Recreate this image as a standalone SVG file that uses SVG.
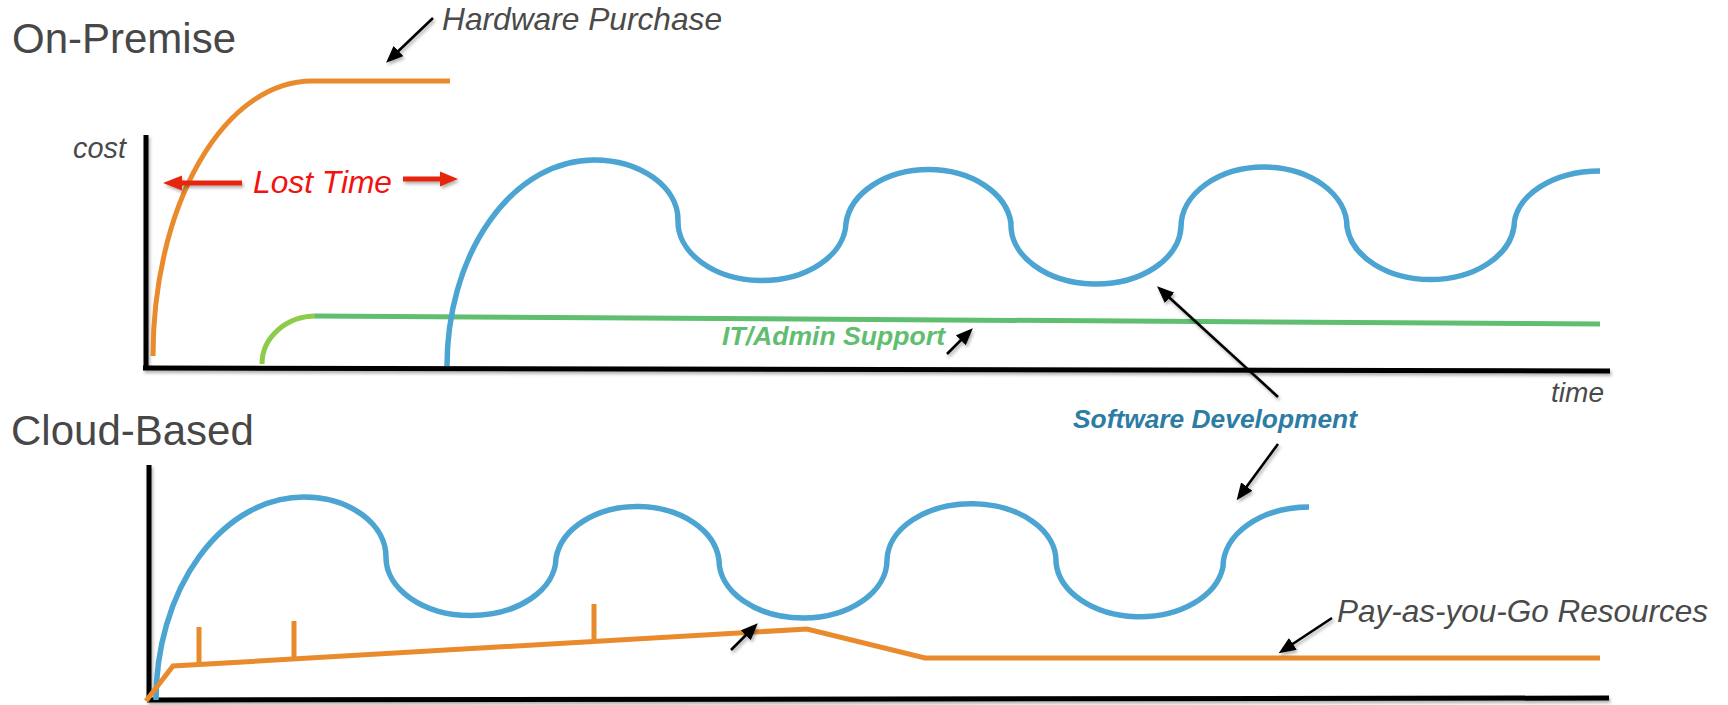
<svg xmlns="http://www.w3.org/2000/svg" width="1728" height="705" viewBox="0 0 1728 705">
  <style>
    .title { font-family: "Liberation Sans", Arial, sans-serif; font-size: 42px; fill: #474747; }
    .lbl { font-family: "Liberation Sans", Arial, sans-serif; font-style: italic; fill: #4a4a4a; }
    .blbl { font-family: "Liberation Sans", Arial, sans-serif; font-style: italic; font-weight: bold; }
    .axis { fill: none; stroke: #000; stroke-width: 5; stroke-linecap: butt; }
    .blue { fill: none; stroke: #4BA4D1; stroke-width: 5.5; }
    .orange { fill: none; stroke: #E98B2D; stroke-width: 5; }
    .green { fill: none; stroke: #5FBE6F; stroke-width: 5; }
    .lgreen { fill: none; stroke: #8DCB4A; stroke-width: 5; }
    .arrow { fill: none; stroke: #000; stroke-width: 2.6; marker-end: url(#ah); }
    .red { fill: none; stroke: #E5260E; stroke-width: 5; }
    .redhead { fill: #E5260E; stroke: none; }
  </style>
  <defs>
    <filter id="sh" x="-10%" y="-50%" width="120%" height="200%">
      <feDropShadow dx="1.5" dy="2.5" stdDeviation="1.5" flood-color="#000" flood-opacity="0.3"/>
    </filter>
    <marker id="ah" markerUnits="userSpaceOnUse" markerWidth="17" markerHeight="14" refX="13" refY="7" orient="auto">
      <path d="M0,0 L17,7 L0,14 z" fill="#000"/>
    </marker>
  </defs>
  <rect width="1728" height="705" fill="#fff"/>

  <g id="on-premise-title"><text class="title" x="12" y="53">On-Premise</text></g>
  <g id="cloud-based-title"><text class="title" x="11" y="445">Cloud-Based</text></g>

  <g id="top-axes" filter="url(#sh)">
    <path class="axis" d="M146,135 L146,368"/>
    <path class="axis" d="M143,368 L1610,371"/>
  </g>
  <g id="top-cost-label"><text class="lbl" x="73" y="158" font-size="29" textLength="53" lengthAdjust="spacingAndGlyphs">cost</text></g>
  <g id="top-time-label"><text class="lbl" x="1551" y="402" font-size="28" textLength="53" lengthAdjust="spacingAndGlyphs">time</text></g>

  <g id="hardware-purchase-curve">
    <path class="orange" d="M153,356 A159,275 0 0 1 312,81 L450,81"/>
  </g>
  <g id="it-admin-curve">
    <path class="lgreen" d="M262,364 A54,48 0 0 1 316,316"/>
    <path class="green" d="M315,316 L1600,324"/>
  </g>
  <g id="software-dev-top-curve">
    <path class="blue" d="M447,366 A147,206 0 0 1 594,160 A84,60 0 0 1 678,220 A84,59 0 0 0 846,223 A83,60 0 0 1 1011,223 A85,59 0 0 0 1181,227 A83,60 0 0 1 1347,227 A84,59 0 0 0 1514,227 A86,56 0 0 1 1600,171"/>
  </g>

  <g id="bottom-axes" filter="url(#sh)">
    <path class="axis" d="M149,465 L149,700"/>
    <path class="axis" d="M147,700 L1609,698"/>
  </g>
  <g id="software-dev-bottom-curve">
    <path class="blue" d="M156,700 A148,203 0 0 1 304,497 A82,60 0 0 1 386,557 A85,58 0 0 0 556,558 A82,59 0 0 1 719,560 A84,58 0 0 0 887,560 A84,57 0 0 1 1056,562 A84,58 0 0 0 1223,567 A86,60 0 0 1 1309,507"/>
  </g>
  <g id="pay-as-you-go-curve">
    <path class="orange" d="M146,701 L173,666 L807,629 L925,658 L1600,658"/>
    <path class="orange" d="M199,627 L199,665 M294,621 L294,660 M594,604 L594,643"/>
  </g>

  <g id="lost-time-label"><text class="lbl" x="253" y="193" font-size="31.5" fill="#F2130F" style="fill:#F2130F" textLength="139" lengthAdjust="spacingAndGlyphs">Lost Time</text></g>
  <g id="hardware-purchase-label"><text class="lbl" x="442" y="30" font-size="32" textLength="280" lengthAdjust="spacingAndGlyphs">Hardware Purchase</text></g>
  <g id="it-admin-label"><text class="blbl" x="722" y="345" font-size="26.5" fill="#5FBE6F" textLength="223" lengthAdjust="spacingAndGlyphs">IT/Admin Support</text></g>
  <g id="software-dev-label"><text class="blbl" x="1073" y="428" font-size="26.3" fill="#2D7CA4" textLength="284" lengthAdjust="spacingAndGlyphs">Software Development</text></g>
  <g id="pay-as-you-go-label"><text class="lbl" x="1337" y="622" font-size="31.5" textLength="371" lengthAdjust="spacingAndGlyphs">Pay-as-you-Go Resources</text></g>

  <g id="connectors" filter="url(#sh)">
    <path class="arrow" d="M433,18 L389,60"/>
    <path class="arrow" d="M947,354 L970,331"/>
    <path class="arrow" d="M1278,397 L1160,289"/>
    <path class="arrow" d="M1278,444 L1239,497"/>
    <path class="arrow" d="M1332,618 L1282,651"/>
    <path class="arrow" d="M731,650 L755,626"/>
    <path class="red" d="M242,183 L180,183"/>
    <path class="redhead" d="M163,183 L182,175.5 L182,190.5 z"/>
    <path class="red" d="M403,179 L442,179"/>
    <path class="redhead" d="M458,179 L440,171.5 L440,186.5 z"/>
  </g>
</svg>
